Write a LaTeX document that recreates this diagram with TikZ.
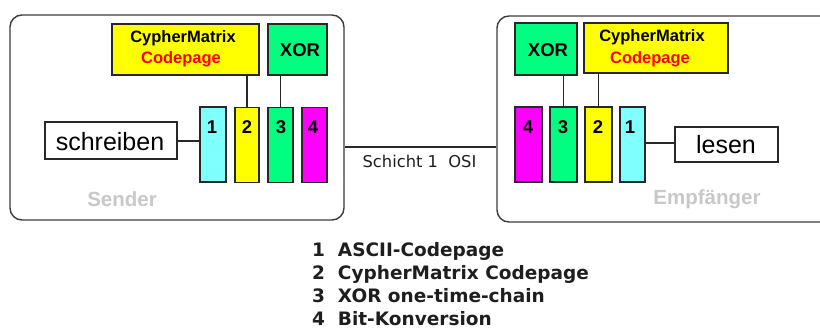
\documentclass[tikz,border=0pt]{standalone}
\usepackage{fontspec}
\setmainfont{Liberation Sans}
\newfontfamily\dejavu{DejaVu Sans}
\definecolor{cyanc}{RGB}{128,255,255}
\definecolor{yelc}{RGB}{255,255,0}
\definecolor{grnc}{RGB}{0,255,128}
\definecolor{magc}{RGB}{255,0,255}
\definecolor{edgec}{RGB}{40,40,40}
\definecolor{framec}{RGB}{60,60,60}
\definecolor{lblgray}{RGB}{200,200,200}
\definecolor{legc}{RGB}{30,30,30}
\tikzset{
  frame/.style={draw=framec,line width=1.4pt,rounded corners=12pt,inner sep=0pt},
  tbox/.style={draw=edgec,line width=1.3pt,inner sep=0pt,minimum height=#1},
  col/.style={draw=edgec,line width=1.3pt,inner sep=0pt,minimum width=#1,minimum height=75pt},
  conn/.style={draw=edgec,line width=1.4pt},
  digit/.style={inner sep=0pt,font=\fontsize{18.5}{18.5}\selectfont\bfseries},
  bigtxt/.style={inner sep=0pt,font=\fontsize{25}{25}\selectfont},
  cmtxt/.style={inner sep=0pt,font=\fontsize{16.5}{16.5}\selectfont\bfseries},
  grlbl/.style={inner sep=0pt,text=lblgray,font=\fontsize{20.5}{20.5}\selectfont\bfseries},
  legend/.style={inner sep=0pt,anchor=base west,text=legc,font=\dejavu\fontsize{18.5}{18.5}\selectfont\bfseries}
}
\begin{document}
\begin{tikzpicture}[x=1pt,y=-1pt]
\useasboundingbox (0,0) rectangle (820,331);
\clip (0,0) rectangle (820,331);
% outer frames
\node[frame,minimum width=334pt,minimum height=205pt] (sender) at (177,117.5) {};
\node[frame,minimum width=340pt,minimum height=206pt] (receiver) at (667,119) {};
% sender side
\node[tbox=51pt,fill=yelc,minimum width=147pt] (yel1) at (185.5,49.5) {};
\node[tbox=51pt,fill=grnc,minimum width=59pt] (xor1) at (297.5,49.5) {};
\node[col=26pt,fill=cyanc] (c1a) at (213,144.5) {};
\node[col=24pt,fill=yelc] (c2a) at (247,145) {};
\node[col=25pt,fill=grnc] (c3a) at (280.5,145) {};
\node[col=25pt,fill=magc] (c4a) at (314.5,145) {};
\node[tbox=37pt,fill=white,minimum width=132pt] (schr) at (111,140.5) {};
\node[cmtxt] at (183,38.5) {CypherMatrix};
\node[cmtxt,text=red] at (181,59) {Codepage};
\node[digit] at (300,50) {XOR};
\node[digit] at (212,127) {1};
\node[digit] at (247,127) {2};
\node[digit] at (281,127) {3};
\node[digit] at (313,127) {4};
\node[bigtxt] at (110,142) {schreiben};
\node[grlbl] at (122,199) {Sender};
% receiver side
\node[tbox=52pt,fill=grnc,minimum width=62pt] (xor2) at (546,49) {};
\node[tbox=50pt,fill=yelc,minimum width=144pt] (yel2) at (656,48) {};
\node[col=27pt,fill=magc] (c4b) at (528.5,144.5) {};
\node[col=27pt,fill=grnc] (c3b) at (563.5,144.5) {};
\node[col=27pt,fill=yelc] (c2b) at (598.5,144.5) {};
\node[col=25pt,fill=cyanc] (c1b) at (632.5,144.5) {};
\node[tbox=35pt,fill=white,minimum width=103pt] (lesen) at (726.5,144.5) {};
\node[cmtxt] at (652,37) {CypherMatrix};
\node[cmtxt,text=red] at (650,59) {Codepage};
\node[digit] at (548,50) {XOR};
\node[digit] at (528,127) {4};
\node[digit] at (563,127) {3};
\node[digit] at (598,127) {2};
\node[digit] at (630,127) {1};
\node[bigtxt] at (726,145) {lesen};
\node[grlbl] at (707,199) {Empfänger};
% connectors
\draw[conn] (schr.east |- 0,141) -- (c1a.west |- 0,141);
\draw[conn] (yel1.south -| c2a.north) -- (c2a.north);
\draw[conn] (xor1.south -| c3a.north) -- (c3a.north);
\draw[conn] (sender.east |- 0,147) -- (receiver.west |- 0,147);
\draw[conn] (xor2.south -| c3b.north) -- (c3b.north);
\draw[conn] (yel2.south -| c2b.north) -- (c2b.north);
\draw[conn] (c1b.east |- 0,143) -- (lesen.west |- 0,143);
\node[inner sep=0pt,font=\dejavu\fontsize{16.3}{16.3}\selectfont,text=legc] (osi) at (419.5,161) {Schicht 1\ \ OSI};
% legend
\node[legend] (l1) at (312,256.5) {1\ \ ASCII-Codepage};
\node[legend] (l2) at (312,279.5) {2\ \ CypherMatrix Codepage};
\node[legend] (l3) at (312,302.5) {3\ \ XOR one-time-chain};
\node[legend] (l4) at (312,325.5) {4\ \ Bit-Konversion};
\end{tikzpicture}
\end{document}
